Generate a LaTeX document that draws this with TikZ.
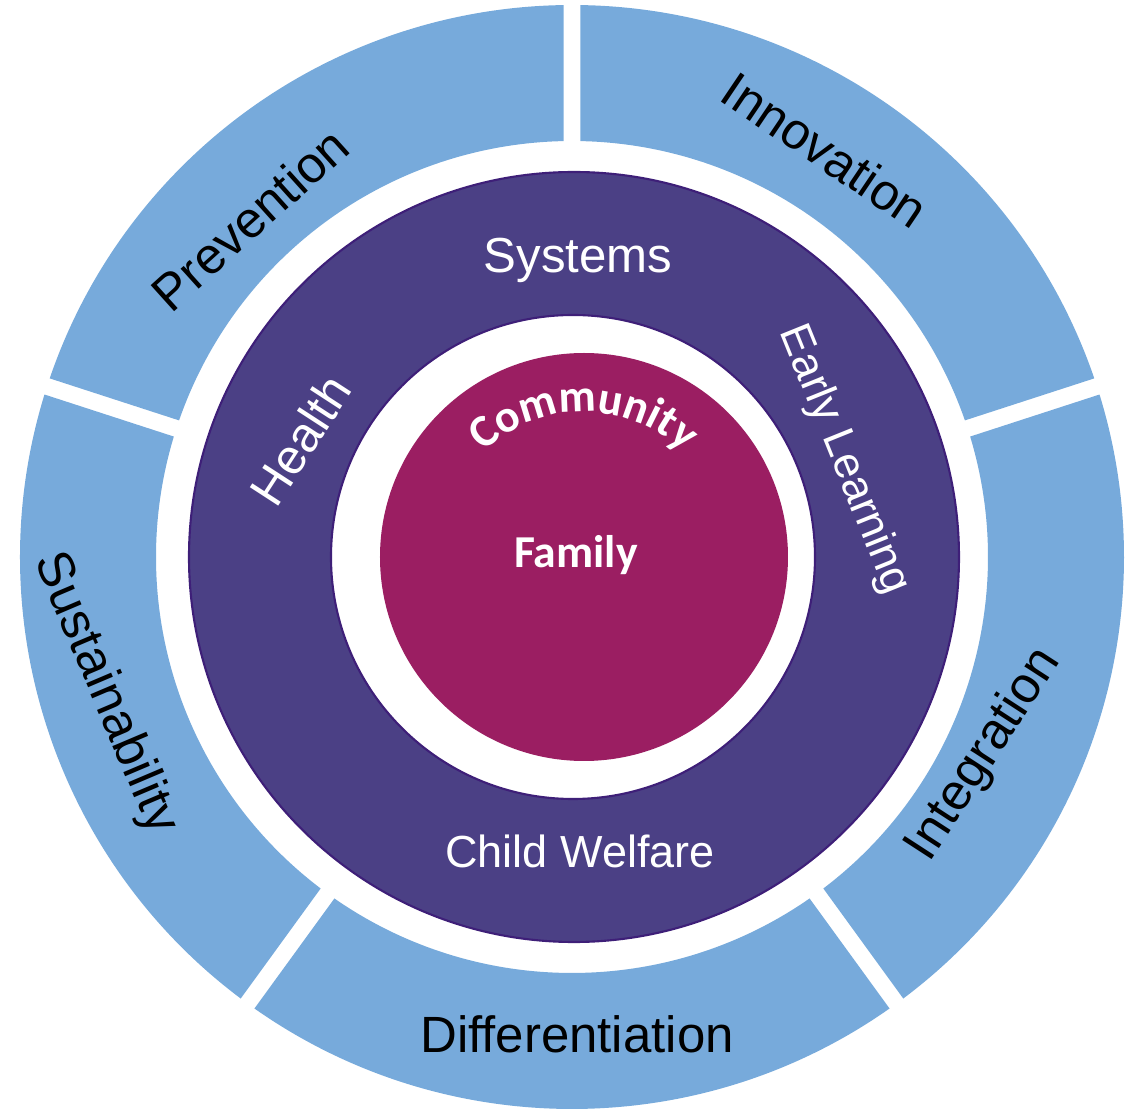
\documentclass[tikz,border=0pt]{standalone}
\usepackage{fontspec}
\setmainfont{Liberation Sans}
\newfontfamily\calfont{Carlito}
\usetikzlibrary{decorations.text}
\definecolor{ringblu}{HTML}{77AADB}
\definecolor{sysppl}{HTML}{4B4085}
\definecolor{edgppl}{HTML}{3E1F78}
\definecolor{famred}{HTML}{9B1E62}

\begin{document}
\begin{tikzpicture}[
  outer/.style={font=\fontsize{14.5}{14.5}\selectfont},
  inner/.style={text=white, font=\fontsize{14}{14}\selectfont}]
\useasboundingbox (-5.72, -5.57) rectangle (5.53, 5.57);

% outer ring, five pieces with a white gap between them
\foreach \a in {18, 90, 162, 234, 306} {
  \fill[ringblu] ({\a+0.88}:5.52) arc[start angle={\a+0.88}, end angle={\a+72-0.88}, radius=5.52]
    -- ({\a+72-1.17}:4.16) arc[start angle={\a+72-1.17}, end angle={\a+1.17}, radius=4.16] -- cycle;
}

% systems ring and family circle
\fill[sysppl, draw=edgppl, semithick] (0.02, 0) circle (3.85);
\fill[white, draw=edgppl, semithick] (0.01, 0) circle (2.42);
\fill[famred] (0.12, 0) circle (2.04);

\node[outer, rotate=42] (prev) at (-3.22, 3.38) {Prevention};
\node[outer, rotate=-34] (innov) at (2.53, 4.07) {Innovation};
\node[outer, rotate=57] (integ) at (4.12, -1.98) {Integration};
\node[outer, anchor=base] (diff) at (0.05, -4.96) {Differentiation};
\node[outer, rotate=-67] (sust) at (-4.67, -1.37) {Sustainability};

\node[inner, anchor=base] (sys) at (0.06, 2.84) {Systems};
\node[inner, anchor=base, font=\fontsize{12.8}{12.8}\selectfont] (welf) at (0.08, -3.11) {Child Welfare};
\node[inner, rotate=57] (health) at (-2.72, 1.17) {Health};
\node[inner, rotate=-68, font=\fontsize{12.6}{12.6}\selectfont] (learn) at (2.72, 0.97) {Early Learning};

% community bent round the top of the circle
\path[decorate, decoration={text along path, text align=center, text color=white,
  text={|\calfont\bfseries\fontsize{13}{13}\selectfont|Community}}]
  (0.12, 0) ++(145:1.45) arc[start angle=145, end angle=35, radius=1.45];
\node[text=white, font=\calfont\bfseries\fontsize{13}{13}\selectfont, anchor=base] (fam) at (0.04, -0.11) {Family};
\end{tikzpicture}
\end{document}
